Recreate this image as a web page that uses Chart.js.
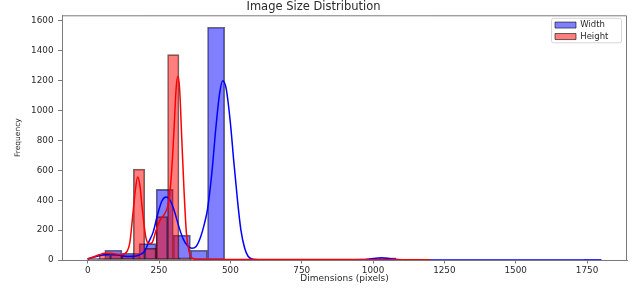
<!DOCTYPE html>
<html>
<head>
<meta charset="utf-8">
<title>Image Size Distribution</title>
<script src="https://cdn.jsdelivr.net/npm/chart.js@4.4.0/dist/chart.umd.min.js"></script>
<style>
  html, body { margin: 0; padding: 0; background: #fff; }
</style>
</head>
<body>
<canvas id="sizeChart" width="633" height="288"></canvas>
<script>
// histogram bins
const widthBinStart = 0;
const widthBinSize = 60;    // 30 bins over 0..1800
const heightBinStart = 0;
const heightBinSize = 40;   // 30 bins over 0..1200

const widthCounts = [10, 65, 45, 110, 473, 167, 65, 1558, 0, 0, 0, 0, 0, 0, 0, 0,
                     3, 15, 0, 0, 0, 0, 0, 0, 0, 0, 0, 0, 0, 1];
const heightCounts = [10, 35, 35, 30, 608, 78, 290, 1375, 15, 3, 2, 2, 1, 1, 1, 2,
                      1, 1, 2, 3, 1, 1, 1, 1, 1, 1, 1, 1, 0, 1];

// kde curves (count scale)
const widthKdeX = [0, 20, 40, 60, 80, 100, 120, 140, 160, 180, 200, 215, 230, 245, 260, 275,
                   290, 305, 320, 335, 350, 365, 380, 395, 410, 420, 435, 450, 462, 473, 485,
                   500, 512, 525, 537, 550, 562, 580, 600, 650, 900, 960, 1000, 1030, 1060,
                   1100, 1150, 1800];
const widthKdeY = [7, 18, 29, 37, 40, 36, 29, 23, 25, 33, 60, 125, 190, 305, 395, 422,
                   395, 320, 220, 140, 95, 78, 90, 150, 250, 340, 580, 900, 1110, 1200, 1150,
                   920, 660, 400, 200, 80, 25, 5, 1, 0, 0, 3, 10, 15, 8,
                   1, 0, 0];
const heightKdeX = [0, 20, 40, 60, 80, 100, 120, 135, 148, 158, 166, 175, 183, 192, 204, 215,
                    225, 240, 255, 270, 283, 293, 302, 310, 316, 322, 330, 338, 346, 355, 365,
                    380, 420, 600, 800, 1000, 1200];
const heightKdeY = [8, 20, 35, 45, 45, 40, 36, 50, 120, 300, 450, 555, 500, 330, 150, 110,
                    115, 200, 270, 310, 380, 560, 850, 1150, 1230, 1150, 800, 450, 180, 60, 15,
                    5, 3, 3, 4, 2, 1];

const xTickValues = [0, 250, 500, 750, 1000, 1250, 1500, 1750];
const yTickValues = [0, 200, 400, 600, 800, 1000, 1200, 1400, 1600];

const toBars = (counts, start, size) =>
    counts.map((c, i) => ({ x: start + (i + 0.5) * size, y: c }));
const toLine = (xs, ys) => xs.map((x, i) => ({ x: x, y: ys[i] }));

const FONT = 'DejaVu Sans';
const AXIS_GRAY = '#7a7a7a';
const TEXT = '#2a2a2a';
const EDGE = 'rgba(0, 0, 0, 0.58)';

// legend sits inside the plot, top right, with a light frame
const legendInside = {
    id: 'legendInside',
    afterLayout(chart) {
        const lg = chart.legend;
        const area = chart.chartArea;
        const left = area.right - 75;
        const top = area.top + 2.5;
        lg.left = left;
        lg.top = top;
        lg.right = left + lg.width;
        lg.bottom = top + lg.height;
    },
    beforeDraw(chart) {
        const ctx = chart.ctx;
        const area = chart.chartArea;
        const x = area.right - 75.5, y = area.top + 3, w = 70, h = 24.5;
        ctx.save();
        ctx.fillStyle = 'rgba(255,255,255,0.8)';
        ctx.strokeStyle = '#d6d6d6';
        ctx.lineWidth = 1;
        ctx.beginPath();
        ctx.roundRect(x, y, w, h, 2);
        ctx.fill();
        ctx.stroke();
        ctx.restore();
    },
    afterDatasetsDraw(chart) {
        // closes the frame: top and right spines
        const ctx = chart.ctx;
        const a = chart.chartArea;
        ctx.save();
        ctx.strokeStyle = AXIS_GRAY;
        ctx.lineWidth = 1;
        ctx.beginPath();
        ctx.moveTo(a.left, a.top + 0.5);
        ctx.lineTo(a.right - 0.5, a.top + 0.5);
        ctx.lineTo(a.right - 0.5, a.bottom);
        ctx.stroke();
        ctx.restore();
    }
};

const ctx = document.getElementById('sizeChart').getContext('2d');
const chart = new Chart(ctx, {
    data: {
        datasets: [{
            type: 'bar',
            label: 'Width',
            data: toBars(widthCounts, widthBinStart, widthBinSize),
            xAxisID: 'x',
            backgroundColor: 'rgba(0, 0, 255, 0.5)',
            borderColor: EDGE,
            borderWidth: 1,
            borderSkipped: false,
            barPercentage: 1,
            categoryPercentage: 1,
            grouped: false,
            order: 4
        }, {
            type: 'bar',
            label: 'Height',
            data: toBars(heightCounts, heightBinStart, heightBinSize),
            xAxisID: 'x2',
            backgroundColor: 'rgba(255, 0, 0, 0.5)',
            borderColor: EDGE,
            borderWidth: 1,
            borderSkipped: false,
            barPercentage: 1,
            categoryPercentage: 1,
            grouped: false,
            order: 3
        }, {
            type: 'line',
            label: 'Width KDE',
            data: toLine(widthKdeX, widthKdeY),
            xAxisID: 'x',
            borderColor: '#0000ff',
            borderWidth: 1.5,
            pointRadius: 0,
            cubicInterpolationMode: 'monotone',
            fill: false,
            order: 2
        }, {
            type: 'line',
            label: 'Height KDE',
            data: toLine(heightKdeX, heightKdeY),
            xAxisID: 'x',
            borderColor: '#ff0000',
            borderWidth: 1.5,
            pointRadius: 0,
            cubicInterpolationMode: 'monotone',
            fill: false,
            order: 1
        }]
    },
    options: {
        responsive: false,
        animation: false,
        layout: { padding: { left: 0, right: 6, top: 0, bottom: 0 } },
        plugins: {
            title: {
                display: true,
                text: 'Image Size Distribution',
                color: TEXT,
                font: { family: FONT, size: 11.5, weight: 'normal', lineHeight: 1.2 },
                padding: { top: 0.5, bottom: 1 }
            },
            legend: {
                position: 'chartArea',
                align: 'start',
                labels: {
                    filter: (item) => item.datasetIndex < 2,
                    sort: (a, b) => a.datasetIndex - b.datasetIndex,
                    boxWidth: 21,
                    boxHeight: 6,
                    padding: 3,
                    color: TEXT,
                    font: { family: FONT, size: 8.5 }
                }
            },
            tooltip: { enabled: false }
        },
        scales: {
            x: {
                type: 'linear',
                min: -90,
                max: 1890,
                offset: false,
                afterBuildTicks: (scale) => { scale.ticks = xTickValues.map(v => ({ value: v })); },
                afterFit: (scale) => { scale.height = 28; },
                ticks: {
                    color: TEXT,
                    font: { family: FONT, size: 8.8 },
                    padding: 1.5,
                    maxRotation: 0,
                    autoSkip: false,
                    callback: (value) => String(value)
                },
                grid: { offset: false, drawOnChartArea: false, drawTicks: true, tickLength: 3.5, color: AXIS_GRAY },
                border: { color: AXIS_GRAY, width: 1 },
                title: {
                    display: true,
                    text: 'Dimensions (pixels)',
                    color: TEXT,
                    font: { family: FONT, size: 9, lineHeight: 1.2 },
                    padding: { top: 0, bottom: 3.5 }
                }
            },
            x2: {
                type: 'linear',
                display: false,
                offset: false,
                grid: { offset: false },
                min: -90,
                max: 1890,
                ticks: { stepSize: 500 }
            },
            y: {
                type: 'linear',
                min: 0,
                max: 1638,
                afterBuildTicks: (scale) => { scale.ticks = yTickValues.map(v => ({ value: v })); },
                afterFit: (scale) => { scale.width = 62; },
                ticks: {
                    color: TEXT,
                    font: { family: FONT, size: 8.8 },
                    padding: 4.5,
                    callback: (value) => String(value)
                },
                grid: { drawOnChartArea: false, drawTicks: true, tickLength: 4, color: AXIS_GRAY },
                border: { color: AXIS_GRAY, width: 1 },
                title: {
                    display: true,
                    text: 'Frequency',
                    color: TEXT,
                    font: { family: FONT, size: 7.5, lineHeight: 1.2 },
                    padding: { top: 14, bottom: 0 }
                }
            }
        }
    },
    plugins: [legendInside]
});
</script>
</body>
</html>
